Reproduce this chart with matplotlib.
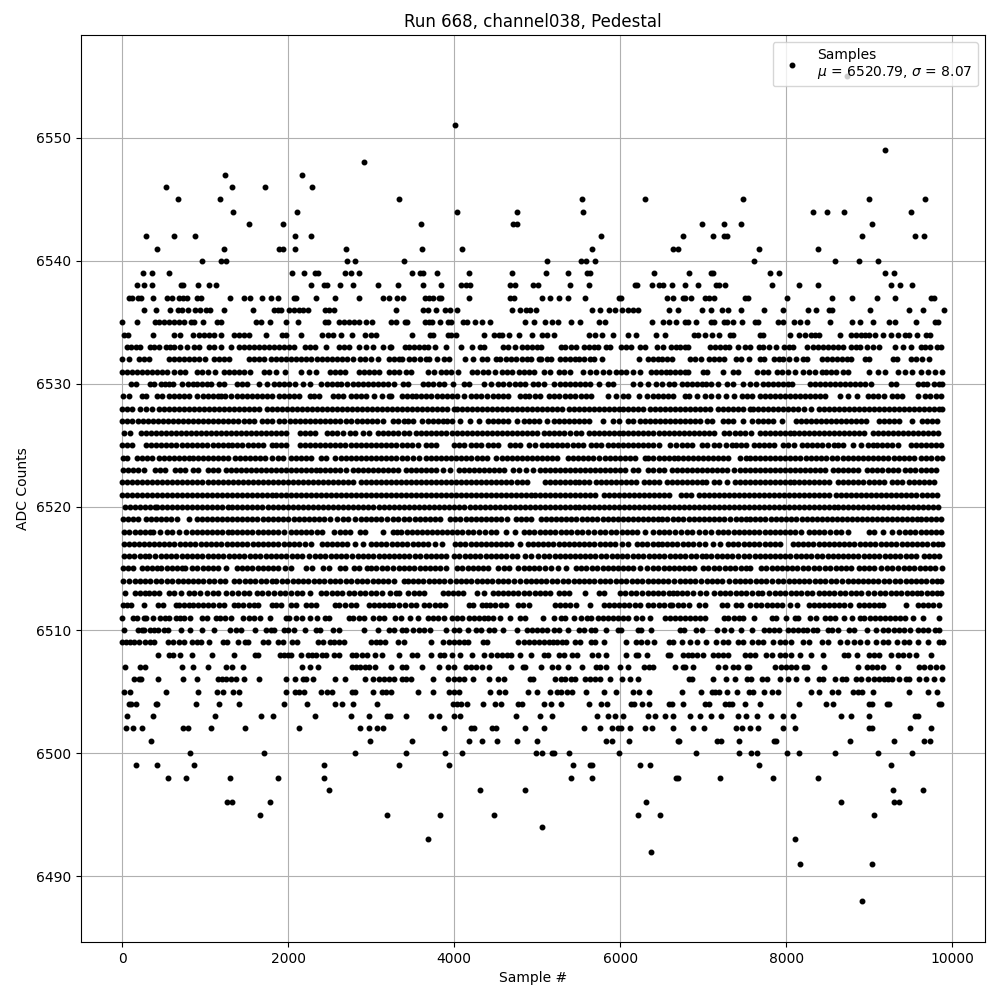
import matplotlib
matplotlib.use("Agg")
import matplotlib.pyplot as plt

# sample numbers per ADC level.
# in the dense rows the dots merge, so positions inside a solid stretch are estimates
adc_6488 = [8916]
adc_6491 = [8169, 9036]
adc_6492 = [6370]
adc_6493 = [3689, 8108]
adc_6494 = [5053]
adc_6495 = [1663, 3193, 3832, 4479, 6214, 6478, 9060]
adc_6496 = [1265, 1325, 1783, 6310, 8663, 9301, 9361]
adc_6497 = [2494, 4311, 4850, 9289, 9651]
adc_6498 = [554, 771, 1301, 1880, 2434, 5413, 5664, 6675, 6699, 7205, 7843, 8386]
adc_6499 = [169, 422, 867, 2434, 3333, 3940, 5436, 5640, 5664, 6238, 6358, 7675, 9265]
adc_6500 = [819, 1711, 2807, 3425, 3892, 4096, 4982, 5053, 5173, 5197, 5389, 5987, 6916, 7434, 7578, 7651, 8012, 8157, 8590, 9108, 9518]
adc_6501 = [349, 2988, 3497, 4180, 4335, 4515, 4754, 4994, 5832, 5904, 6107, 6693, 6711, 7169, 7217, 7434, 7855, 7880, 8771, 9301, 9663, 9735]
adc_6502 = [48, 133, 241, 735, 795, 1072, 1482, 2132, 2867, 2976, 3072, 3145, 3880, 4203, 4239, 4455, 4503, 4850, 5077, 5568, 5760, 5904, 5975, 6011, 6119, 6298, 6382, 6633, 6880, 7012, 7398, 7470, 7566, 7663, 7964, 8108, 9000, 9036, 9494, 9747]
adc_6503 = [60, 373, 1120, 1675, 1819, 2325, 2759, 2976, 3193, 3229, 3425, 3725, 3820, 4000, 4072, 4742, 5029, 5173, 5724, 5855, 5939, 6035, 6334, 6418, 6538, 6639, 6843, 6964, 7096, 7217, 7422, 7518, 7651, 7819, 7964, 8084, 8663, 8783, 9000, 9554, 9590]
adc_6504 = [84, 108, 169, 410, 422, 892, 1169, 1410, 1952, 2229, 2566, 2651, 2783, 3072, 3988, 4036, 4084, 4156, 4347, 4491, 4563, 4766, 4814, 5077, 5161, 5293, 5628, 5772, 5843, 6131, 6167, 6262, 6346, 6585, 6621, 6759, 7024, 7072, 7265, 7313, 7349, 7506, 7687, 8157, 8482, 8566, 9000, 9036, 9217, 9241, 9843, 9867]
adc_6505 = [24, 96, 530, 916, 1145, 1217, 1337, 1410, 1976, 2084, 2132, 2193, 2398, 2470, 2530, 2771, 2807, 3024, 3133, 3181, 3242, 3569, 3749, 3940, 4000, 4060, 4431, 4539, 4610, 4886, 4994, 5149, 5245, 5293, 5365, 5425, 5592, 5808, 5951, 6155, 6226, 6346, 6747, 6976, 7108, 7145, 7193, 7289, 7410, 7554, 7602, 7735, 7831, 7904, 8301, 8398, 8554, 8627, 8807, 8867, 8916, 9048, 9482, 9711, 9819]
adc_6506 = [145, 205, 229, 434, 735, 904, 1157, 1205, 1253, 1313, 1373, 1470, 1651, 1976, 2084, 2181, 2217, 2301, 2566, 2687, 2928, 3024, 3096, 3157, 3217, 3270, 3377, 3425, 3485, 3749, 3928, 4000, 4060, 4120, 4227, 4419, 4527, 4599, 4910, 4946, 5221, 5293, 5341, 5413, 5461, 5580, 5640, 5700, 5760, 5880, 6023, 6119, 6215, 6831, 6867, 7120, 7277, 7386, 7530, 7578, 7711, 7771, 7928, 8024, 8120, 8253, 8398, 8446, 8590, 8675, 8723, 8843, 8904, 8988, 9060, 9120, 9181, 9229, 9277, 9361, 9446, 9482, 9602, 9687, 9783, 9880]
adc_6507 = [36, 217, 277, 723, 855, 1036, 1253, 1325, 1458, 2169, 2265, 2361, 2771, 2819, 2867, 2928, 2976, 3048, 3241, 3366, 3425, 3617, 3820, 3928, 4000, 4144, 4203, 4263, 4335, 4419, 4682, 4826, 4850, 5041, 5173, 5257, 5377, 5544, 5712, 5760, 5831, 5999, 6095, 6286, 6346, 6394, 6663, 6759, 6783, 6880, 7181, 7265, 7361, 7422, 7530, 7554, 7867, 7940, 8000, 8060, 8120, 8217, 8253, 8458, 8867, 8976, 9036, 9096, 9169, 9349, 9602, 9663, 9735, 9807, 9880]
adc_6508 = [434, 566, 614, 699, 843, 1084, 1349, 1602, 1638, 1904, 1952, 2000, 2036, 2157, 2241, 2289, 2337, 2410, 2458, 2554, 2614, 2771, 2819, 2892, 2952, 3048, 3133, 3333, 3497, 3557, 3725, 3832, 3880, 3976, 4072, 4215, 4359, 4443, 4515, 4575, 4635, 4682, 4790, 4922, 5077, 5125, 5269, 5329, 5425, 5484, 5664, 5736, 5831, 6071, 6190, 6214, 6322, 6574, 6598, 6759, 6819, 6867, 6928, 7000, 7120, 7181, 7241, 7301, 7506, 7566, 7627, 7759, 7831, 7928, 7988, 8060, 8169, 8301, 8446, 8699, 8747, 8855, 9000, 9060, 9120, 9265, 9349, 9410, 9482, 9566, 9747]
adc_6509 = [0, 48, 96, 145, 205, 277, 337, 386, 554, 614, 687, 747, 843, 904, 952, 1048, 1217, 1265, 1398, 1482, 1518, 1699, 1759, 1880, 1940, 2048, 2108, 2361, 2422, 2506, 2554, 2614, 2675, 3000, 3060, 3108, 3169, 3318, 3401, 3725, 3868, 3940, 4000, 4060, 4120, 4168, 4347, 4395, 4766, 4838, 4898, 4958, 5017, 5077, 5137, 5185, 5245, 5305, 5353, 5460, 5520, 5652, 5700, 5808, 6071, 6190, 6250, 6322, 6406, 6585, 6639, 6747, 6843, 6928, 7036, 7157, 7241, 7301, 7422, 7482, 7590, 7663, 7723, 7843, 7928, 7988, 8060, 8205, 8277, 8434, 8506, 8651, 8735, 8819, 8892, 8976, 9084, 9169, 9229, 9337, 9422, 9482, 9590, 9711, 9843, 9892]
adc_6510 = [24, 193, 241, 265, 337, 386, 434, 506, 554, 711, 819, 964, 1108, 1301, 1373, 1434, 1602, 1735, 1795, 1831, 1952, 2000, 2072, 2205, 2337, 2386, 2542, 2614, 2916, 3084, 3217, 3277, 3366, 3425, 3509, 3581, 3641, 3713, 3904, 4000, 4060, 4168, 4263, 4323, 4419, 4479, 4587, 4754, 4874, 4934, 4994, 5053, 5113, 5197, 5269, 5377, 5508, 5568, 5652, 5700, 5831, 5975, 6011, 6215, 6250, 6370, 6723, 6771, 6916, 6988, 7169, 7253, 7337, 7458, 7590, 7735, 7795, 7855, 7916, 8024, 8084, 8145, 8205, 8253, 8325, 8373, 8506, 8554, 8627, 8759, 8819, 8976, 9084, 9169, 9229, 9301, 9361, 9422, 9494, 9590, 9651, 9711, 9795, 9843]
adc_6511 = [0, 133, 181, 265, 289, 373, 458, 518, 566, 651, 699, 747, 819, 964, 1024, 1132, 1181, 1241, 1313, 1458, 1530, 1590, 1663, 1783, 1976, 2012, 2096, 2169, 2265, 2349, 2446, 2494, 2735, 2783, 2855, 2916, 3024, 3096, 3157, 3282, 3354, 3473, 3569, 3689, 3749, 3809, 3880, 3976, 4036, 4096, 4180, 4239, 4299, 4359, 4407, 4467, 4551, 4670, 4790, 4850, 5065, 5197, 5293, 5341, 5448, 5532, 5604, 5652, 5736, 5795, 5855, 5915, 5975, 6035, 6095, 6190, 6262, 6358, 6538, 6597, 6659, 6719, 6779, 6839, 6899, 6960, 7020, 7253, 7301, 7373, 7434, 7482, 7614, 7831, 7880, 8000, 8108, 8145, 8289, 8361, 8470, 8530, 8590, 8699, 8795, 8892, 8940, 9012, 9072, 9133, 9193, 9253, 9313, 9373, 9434, 9530, 9651, 9843]
adc_6512 = [12, 60, 110, 265, 430, 490, 650, 690, 750, 800, 860, 915, 980, 1040, 1100, 1170, 1230, 1345, 1400, 1460, 1530, 1590, 1640, 1800, 1860, 1915, 2040, 2090, 2210, 2270, 2330, 2570, 2610, 2680, 2760, 2820, 2970, 3030, 3090, 3150, 3210, 3265, 3340, 3410, 3480, 3540, 3640, 3700, 3770, 3830, 3890, 4180, 4230, 4330, 4380, 4430, 4490, 4560, 4620, 4770, 4830, 4900, 5220, 5280, 5340, 5400, 5470, 5640, 5800, 5860, 5920, 5990, 6050, 6110, 6180, 6240, 6330, 6400, 6470, 6530, 6600, 6620, 6700, 6760, 6830, 6950, 7020, 7230, 7290, 7400, 7460, 7570, 7640, 7700, 7770, 7830, 7890, 7950, 8040, 8130, 8270, 8330, 8390, 8450, 8510, 8580, 8640, 8700, 8770, 8880, 8940, 9000, 9060, 9120, 9170, 9440, 9590, 9650, 9710, 9770, 9840]
adc_6513 = [40, 150, 210, 270, 330, 390, 450, 570, 630, 710, 800, 870, 940, 1020, 1090, 1160, 1250, 1320, 1400, 1470, 1530, 1620, 1680, 1760, 1830, 1900, 1960, 2040, 2110, 2170, 2260, 2400, 2460, 2530, 2590, 2650, 2730, 2790, 2860, 2930, 3000, 3060, 3125, 3230, 3300, 3340, 3440, 3520, 3580, 3640, 3860, 3930, 3990, 4050, 4110, 4270, 4360, 4470, 4530, 4590, 4650, 4710, 4770, 4840, 4900, 4970, 5030, 5090, 5150, 5260, 5320, 5380, 5580, 5740, 5810, 6000, 6060, 6130, 6190, 6260, 6340, 6400, 6460, 6520, 6590, 6640, 6690, 6750, 6810, 6880, 6960, 7030, 7130, 7200, 7260, 7320, 7400, 7460, 7520, 7590, 7660, 7710, 7790, 7860, 7920, 7990, 8060, 8120, 8180, 8250, 8310, 8390, 8450, 8510, 8570, 8650, 8710, 8780, 8840, 8900, 8980, 9060, 9130, 9190, 9260, 9320, 9380, 9450, 9510, 9570, 9630, 9700, 9760, 9820, 9870]
adc_6514 = [12, 80, 150, 210, 280, 340, 410, 470, 540, 600, 670, 730, 790, 850, 920, 980, 1050, 1110, 1180, 1240, 1350, 1410, 1480, 1540, 1600, 1670, 1730, 1800, 1860, 1930, 1990, 2060, 2120, 2180, 2240, 2310, 2370, 2430, 2500, 2560, 2630, 2700, 2760, 2830, 2890, 2950, 3020, 3080, 3140, 3200, 3270, 3390, 3450, 3510, 3570, 3630, 3700, 3760, 3820, 3880, 3950, 4020, 4080, 4140, 4200, 4270, 4330, 4400, 4460, 4530, 4590, 4650, 4720, 4790, 4860, 4920, 4990, 5050, 5110, 5180, 5240, 5310, 5370, 5440, 5500, 5560, 5630, 5690, 5760, 5820, 5880, 5950, 6010, 6070, 6140, 6200, 6260, 6330, 6390, 6450, 6520, 6580, 6650, 6720, 6780, 6840, 6900, 6970, 7050, 7110, 7170, 7230, 7310, 7380, 7440, 7500, 7570, 7640, 7700, 7760, 7830, 7900, 7960, 8030, 8090, 8160, 8220, 8280, 8350, 8410, 8470, 8540, 8600, 8670, 8740, 8800, 8860, 8920, 8990, 9050, 9110, 9180, 9240, 9310, 9370, 9440, 9500, 9560, 9630, 9690, 9760, 9820, 9870]
adc_6515 = [10, 70, 130, 240, 300, 360, 420, 470, 540, 600, 660, 720, 760, 840, 900, 970, 1030, 1090, 1150, 1250, 1390, 1450, 1510, 1570, 1640, 1700, 1760, 1820, 1880, 1960, 2040, 2210, 2290, 2420, 2490, 2630, 2690, 2790, 2850, 2950, 3000, 3060, 3130, 3190, 3260, 3330, 3400, 3460, 3520, 3590, 3650, 3710, 3770, 3830, 3900, 4040, 4100, 4170, 4230, 4290, 4350, 4410, 4530, 4600, 4660, 4770, 4840, 4900, 4960, 5020, 5090, 5170, 5250, 5350, 5470, 5530, 5590, 5660, 5720, 5790, 5850, 5910, 5970, 6040, 6100, 6160, 6240, 6320, 6390, 6460, 6530, 6590, 6650, 6710, 6770, 6830, 6890, 7000, 7060, 7130, 7190, 7260, 7320, 7380, 7450, 7510, 7570, 7700, 7760, 7830, 7890, 7950, 8010, 8070, 8130, 8200, 8260, 8330, 8400, 8470, 8530, 8600, 8660, 8720, 8780, 8880, 8940, 9000, 9060, 9140, 9220, 9280, 9350, 9420, 9480, 9540, 9610, 9670, 9730, 9790, 9880]
adc_6516 = [20, 80, 140, 210, 270, 330, 400, 470, 530, 590, 650, 720, 780, 840, 900, 960, 1030, 1090, 1150, 1220, 1290, 1350, 1410, 1470, 1540, 1600, 1660, 1730, 1790, 1860, 1920, 1980, 2050, 2110, 2170, 2250, 2320, 2380, 2440, 2520, 2580, 2640, 2700, 2770, 2840, 2900, 2960, 3020, 3090, 3150, 3210, 3270, 3340, 3400, 3460, 3530, 3590, 3660, 3720, 3780, 3840, 3900, 4000, 4060, 4130, 4190, 4250, 4310, 4380, 4440, 4500, 4570, 4630, 4700, 4760, 4850, 4930, 5010, 5080, 5140, 5210, 5270, 5330, 5400, 5460, 5520, 5580, 5640, 5700, 5770, 5830, 5900, 5960, 6020, 6080, 6150, 6220, 6280, 6350, 6410, 6470, 6530, 6600, 6660, 6720, 6780, 6850, 6910, 6980, 7040, 7100, 7170, 7230, 7290, 7350, 7420, 7490, 7550, 7620, 7680, 7740, 7800, 7870, 7930, 7990, 8050, 8120, 8180, 8240, 8300, 8370, 8430, 8500, 8560, 8620, 8680, 8750, 8810, 8870, 8940, 9000, 9060, 9120, 9190, 9250, 9310, 9370, 9440, 9500, 9560, 9660, 9720, 9780, 9840]
adc_6517 = [20, 80, 140, 200, 260, 320, 380, 440, 510, 570, 630, 700, 760, 820, 880, 950, 1010, 1070, 1130, 1190, 1260, 1320, 1390, 1450, 1510, 1580, 1640, 1700, 1760, 1820, 1880, 1950, 2010, 2070, 2130, 2200, 2270, 2410, 2470, 2530, 2590, 2650, 2710, 2800, 2900, 3000, 3060, 3120, 3180, 3250, 3310, 3370, 3430, 3500, 3560, 3620, 3680, 3770, 3850, 4010, 4070, 4130, 4200, 4260, 4320, 4380, 4440, 4510, 4570, 4630, 4690, 4790, 4890, 4950, 5010, 5070, 5130, 5190, 5260, 5320, 5380, 5440, 5510, 5570, 5630, 5690, 5760, 5820, 5880, 5940, 6020, 6100, 6200, 6260, 6320, 6390, 6450, 6510, 6570, 6630, 6690, 6760, 6820, 6880, 6950, 7020, 7120, 7200, 7300, 7360, 7420, 7490, 7550, 7610, 7670, 7740, 7800, 7860, 7920, 8080, 8140, 8200, 8260, 8320, 8390, 8450, 8510, 8570, 8640, 8700, 8760, 8820, 8890, 8950, 9010, 9070, 9140, 9200, 9260, 9320, 9390, 9450, 9510, 9570, 9640, 9700, 9770, 9830, 9880]
adc_6518 = [20, 80, 150, 210, 270, 340, 370, 460, 540, 600, 680, 770, 840, 900, 960, 1020, 1080, 1140, 1200, 1270, 1330, 1390, 1450, 1510, 1570, 1640, 1700, 1760, 1820, 1880, 1950, 2030, 2100, 2160, 2220, 2280, 2350, 2410, 2550, 2620, 2680, 2740, 2860, 2930, 3140, 3260, 3310, 3360, 3430, 3490, 3550, 3610, 3670, 3730, 3790, 3850, 3910, 3970, 4040, 4100, 4170, 4230, 4300, 4370, 4440, 4510, 4620, 4730, 4840, 4900, 4960, 5030, 5090, 5150, 5220, 5290, 5350, 5410, 5480, 5540, 5610, 5690, 5760, 5820, 5890, 5950, 6020, 6080, 6140, 6200, 6300, 6400, 6470, 6530, 6590, 6660, 6730, 6800, 6860, 6950, 7020, 7100, 7180, 7240, 7300, 7370, 7430, 7490, 7550, 7610, 7670, 7740, 7800, 7860, 7930, 7990, 8050, 8110, 8180, 8270, 8330, 8390, 8450, 8530, 8600, 8660, 8750, 9000, 9060, 9170, 9270, 9360, 9430, 9490, 9550, 9620, 9690, 9750, 9810, 9870]
adc_6519 = [10, 70, 130, 190, 290, 350, 410, 470, 530, 590, 660, 800, 900, 960, 1020, 1080, 1140, 1200, 1260, 1320, 1390, 1450, 1510, 1570, 1630, 1700, 1760, 1820, 1880, 1940, 2000, 2070, 2130, 2190, 2250, 2310, 2370, 2430, 2510, 2590, 2660, 2720, 2800, 2880, 2940, 3000, 3060, 3120, 3190, 3260, 3320, 3400, 3460, 3530, 3590, 3650, 3710, 3770, 3830, 3950, 4010, 4070, 4140, 4200, 4260, 4320, 4380, 4450, 4510, 4570, 4640, 4750, 4810, 4870, 4930, 5050, 5110, 5170, 5230, 5290, 5350, 5410, 5470, 5540, 5600, 5660, 5720, 5790, 5850, 5910, 5970, 6030, 6090, 6150, 6210, 6270, 6330, 6390, 6450, 6510, 6570, 6640, 6700, 6760, 6830, 6890, 6950, 7010, 7070, 7130, 7190, 7250, 7320, 7390, 7450, 7510, 7570, 7630, 7690, 7750, 7820, 7880, 7940, 8000, 8060, 8120, 8190, 8250, 8310, 8370, 8430, 8490, 8550, 8610, 8670, 8730, 8790, 8850, 8910, 8970, 9030, 9090, 9150, 9210, 9270, 9330, 9390, 9450, 9510, 9570, 9630, 9690, 9750, 9810, 9870]
adc_6520 = [40, 100, 160, 220, 280, 340, 400, 420, 480, 540, 600, 660, 720, 780, 840, 900, 960, 1020, 1080, 1140, 1200, 1270, 1330, 1390, 1450, 1510, 1570, 1630, 1690, 1760, 1820, 1880, 1940, 2000, 2060, 2120, 2180, 2240, 2300, 2360, 2420, 2480, 2540, 2600, 2660, 2720, 2780, 2840, 2900, 2960, 3020, 3090, 3150, 3210, 3270, 3330, 3400, 3460, 3520, 3580, 3640, 3700, 3760, 3820, 3880, 3940, 4000, 4060, 4120, 4190, 4250, 4310, 4370, 4430, 4490, 4550, 4610, 4670, 4730, 4790, 4850, 4910, 4970, 5030, 5090, 5150, 5210, 5270, 5330, 5390, 5450, 5510, 5570, 5630, 5690, 5750, 5810, 5870, 5930, 5990, 6050, 6110, 6170, 6230, 6290, 6350, 6410, 6470, 6530, 6590, 6650, 6710, 6770, 6830, 6890, 6950, 7010, 7070, 7130, 7190, 7250, 7310, 7370, 7430, 7490, 7550, 7610, 7670, 7730, 7790, 7850, 7910, 7970, 8030, 8090, 8150, 8210, 8270, 8330, 8390, 8450, 8510, 8570, 8630, 8690, 8750, 8810, 8870, 8930, 8990, 9050, 9110, 9170, 9230, 9290, 9350, 9410, 9470, 9530, 9590, 9650, 9710, 9770, 9830]
adc_6521 = [0, 60, 120, 180, 240, 300, 360, 420, 480, 540, 600, 660, 720, 780, 840, 900, 960, 1020, 1080, 1140, 1200, 1260, 1320, 1380, 1440, 1500, 1560, 1620, 1680, 1740, 1800, 1860, 1920, 1980, 2040, 2100, 2160, 2220, 2280, 2340, 2400, 2460, 2520, 2580, 2640, 2700, 2760, 2820, 2880, 2940, 3000, 3060, 3120, 3180, 3240, 3300, 3360, 3420, 3480, 3540, 3600, 3660, 3720, 3780, 3840, 3900, 3960, 4020, 4080, 4140, 4200, 4260, 4320, 4380, 4440, 4500, 4560, 4620, 4680, 4740, 4800, 4860, 4920, 4980, 5040, 5100, 5160, 5220, 5280, 5340, 5400, 5460, 5520, 5580, 5640, 5700, 5800, 5870, 5930, 5990, 6050, 6110, 6170, 6230, 6290, 6350, 6410, 6470, 6530, 6590, 6730, 6790, 6850, 6950, 7010, 7070, 7130, 7190, 7250, 7310, 7370, 7430, 7490, 7550, 7610, 7670, 7730, 7790, 7850, 7910, 7970, 8030, 8090, 8150, 8210, 8270, 8330, 8390, 8450, 8510, 8600, 8660, 8720, 8780, 8840, 8900, 8960, 9020, 9080, 9140, 9200, 9260, 9320, 9380, 9440, 9500, 9560, 9640, 9700, 9760, 9820]
adc_6522 = [0, 60, 120, 180, 240, 300, 360, 420, 480, 540, 600, 660, 720, 780, 840, 900, 960, 1040, 1100, 1160, 1220, 1280, 1340, 1400, 1460, 1520, 1580, 1640, 1700, 1760, 1820, 1880, 1940, 2000, 2060, 2120, 2180, 2240, 2300, 2360, 2420, 2480, 2540, 2600, 2660, 2720, 2780, 2880, 2940, 3000, 3060, 3120, 3180, 3240, 3300, 3360, 3420, 3480, 3540, 3600, 3660, 3720, 3780, 3840, 3900, 3960, 4020, 4080, 4140, 4200, 4260, 4320, 4380, 4440, 4500, 4560, 4620, 4680, 4760, 4820, 4880, 5090, 5150, 5210, 5270, 5330, 5390, 5450, 5510, 5570, 5630, 5710, 5770, 5830, 5890, 5950, 6010, 6070, 6130, 6190, 6290, 6350, 6410, 6470, 6560, 6620, 6680, 6740, 6800, 6860, 6920, 6980, 7040, 7130, 7190, 7290, 7380, 7440, 7500, 7560, 7620, 7680, 7740, 7800, 7860, 7920, 7980, 8040, 8100, 8160, 8220, 8280, 8340, 8400, 8460, 8520, 8620, 8680, 8740, 8800, 8860, 8920, 9000, 9060, 9120, 9180, 9270, 9330, 9390, 9480, 9540, 9600, 9660, 9720, 9780]
adc_6523 = [12, 70, 130, 190, 260, 400, 460, 520, 640, 700, 760, 860, 920, 1040, 1100, 1160, 1250, 1310, 1370, 1430, 1490, 1550, 1610, 1670, 1730, 1790, 1850, 1910, 1970, 2030, 2090, 2150, 2210, 2270, 2330, 2390, 2450, 2510, 2570, 2630, 2700, 2780, 2840, 2900, 2960, 3020, 3080, 3140, 3200, 3260, 3320, 3420, 3480, 3540, 3600, 3660, 3720, 3780, 3870, 3950, 4060, 4120, 4180, 4240, 4300, 4360, 4420, 4480, 4540, 4600, 4710, 4780, 4860, 4950, 5040, 5100, 5160, 5220, 5280, 5340, 5400, 5460, 5520, 5580, 5640, 5700, 5760, 5820, 5880, 5940, 6000, 6060, 6160, 6220, 6340, 6400, 6470, 6530, 6630, 6690, 6750, 6810, 6870, 6930, 6990, 7050, 7110, 7170, 7230, 7290, 7370, 7440, 7500, 7560, 7630, 7690, 7750, 7810, 7870, 7930, 7990, 8050, 8110, 8170, 8230, 8290, 8350, 8410, 8470, 8560, 8620, 8680, 8740, 8800, 8860, 8970, 9030, 9090, 9150, 9230, 9290, 9350, 9430, 9490, 9550, 9620, 9680, 9740, 9800]
adc_6524 = [12, 60, 180, 240, 300, 360, 440, 500, 560, 620, 680, 740, 800, 860, 920, 980, 1040, 1100, 1160, 1220, 1280, 1360, 1420, 1480, 1540, 1600, 1660, 1720, 1800, 1880, 1940, 2040, 2100, 2160, 2220, 2280, 2400, 2460, 2560, 2640, 2700, 2760, 2820, 2880, 2940, 3000, 3060, 3120, 3180, 3240, 3300, 3370, 3430, 3500, 3580, 3660, 3720, 3780, 3840, 3900, 3960, 4020, 4080, 4140, 4200, 4280, 4340, 4400, 4500, 4580, 4640, 4700, 4760, 4820, 4880, 4940, 5000, 5060, 5120, 5180, 5240, 5370, 5430, 5490, 5550, 5610, 5670, 5750, 5820, 5880, 5940, 6000, 6060, 6120, 6180, 6300, 6340, 6400, 6470, 6530, 6590, 6650, 6700, 6760, 6820, 6880, 6940, 7000, 7060, 7120, 7180, 7240, 7300, 7440, 7510, 7570, 7630, 7690, 7750, 7810, 7870, 7930, 7990, 8050, 8110, 8170, 8240, 8300, 8360, 8420, 8480, 8550, 8610, 8680, 8740, 8800, 8860, 8930, 8990, 9050, 9110, 9170, 9230, 9300, 9360, 9420, 9480, 9540, 9620, 9680, 9740, 9820, 9880]
adc_6525 = [0, 60, 120, 290, 350, 410, 470, 530, 590, 650, 720, 780, 840, 900, 960, 1020, 1090, 1150, 1210, 1270, 1330, 1390, 1450, 1520, 1580, 1640, 1700, 1800, 1860, 1920, 1980, 2140, 2200, 2260, 2320, 2380, 2440, 2500, 2560, 2620, 2680, 2760, 2820, 2880, 2940, 3000, 3060, 3120, 3180, 3240, 3300, 3370, 3430, 3490, 3560, 3660, 3720, 3780, 4000, 4060, 4120, 4200, 4260, 4320, 4410, 4470, 4530, 4670, 4730, 4790, 4900, 4980, 5060, 5120, 5180, 5240, 5300, 5360, 5430, 5490, 5550, 5650, 5710, 5770, 5850, 5910, 5970, 6030, 6100, 6160, 6220, 6280, 6340, 6400, 6470, 6600, 6670, 6740, 6800, 6860, 6980, 7050, 7130, 7190, 7280, 7350, 7390, 7450, 7520, 7610, 7670, 7730, 7790, 7850, 7960, 8020, 8100, 8190, 8250, 8310, 8370, 8430, 8500, 8570, 8630, 8690, 8800, 8900, 8980, 9040, 9100, 9160, 9220, 9280, 9350, 9500, 9560, 9620, 9680, 9740, 9800, 9860]
adc_6526 = [24, 90, 230, 290, 350, 410, 470, 530, 590, 650, 710, 770, 830, 890, 950, 1010, 1070, 1130, 1190, 1250, 1310, 1370, 1430, 1490, 1550, 1610, 1670, 1730, 1790, 1860, 1920, 1980, 2140, 2200, 2260, 2320, 2470, 2530, 2590, 2660, 2750, 2810, 2900, 2980, 3080, 3140, 3200, 3260, 3320, 3400, 3460, 3540, 3600, 3660, 3720, 3780, 3840, 3900, 3980, 4040, 4100, 4160, 4220, 4280, 4340, 4400, 4460, 4520, 4580, 4640, 4700, 4760, 4820, 4880, 4940, 5000, 5080, 5140, 5200, 5260, 5320, 5400, 5470, 5530, 5620, 5680, 5740, 5800, 5860, 5920, 5980, 6040, 6100, 6160, 6220, 6280, 6340, 6400, 6470, 6530, 6590, 6650, 6710, 6770, 6830, 6890, 6950, 7010, 7070, 7130, 7250, 7310, 7380, 7440, 7500, 7580, 7680, 7740, 7800, 7860, 7920, 7980, 8040, 8100, 8160, 8220, 8280, 8340, 8400, 8460, 8520, 8580, 8640, 8700, 8760, 8820, 8880, 8940, 9050, 9110, 9170, 9230, 9290, 9350, 9410, 9470, 9530, 9590, 9650, 9710, 9770, 9830]
adc_6527 = [0, 60, 120, 190, 250, 310, 370, 430, 490, 550, 610, 670, 730, 790, 850, 910, 980, 1040, 1100, 1160, 1220, 1280, 1340, 1400, 1470, 1530, 1590, 1680, 1740, 1800, 1890, 1950, 2020, 2080, 2140, 2200, 2260, 2320, 2380, 2440, 2500, 2560, 2620, 2700, 2760, 2830, 2890, 2950, 3010, 3070, 3140, 3260, 3320, 3390, 3450, 3510, 3610, 3680, 3740, 3800, 3860, 3920, 3980, 4070, 4190, 4300, 4410, 4470, 4530, 4590, 4650, 4760, 4840, 4900, 4960, 5020, 5120, 5200, 5260, 5320, 5380, 5440, 5500, 5560, 5620, 5790, 5910, 5980, 6090, 6150, 6240, 6300, 6360, 6420, 6480, 6540, 6600, 6660, 6720, 6780, 6840, 6900, 6960, 7050, 7110, 7240, 7300, 7360, 7480, 7590, 7660, 7720, 7780, 7840, 7950, 8120, 8180, 8240, 8300, 8360, 8420, 8480, 8540, 8600, 8660, 8720, 8780, 8840, 8900, 8960, 9120, 9180, 9240, 9300, 9360, 9520, 9640, 9700, 9760, 9820]
adc_6528 = [0, 60, 120, 220, 290, 360, 450, 510, 570, 630, 690, 750, 810, 870, 930, 990, 1050, 1110, 1170, 1230, 1290, 1350, 1410, 1470, 1530, 1590, 1650, 1750, 1810, 1870, 1930, 1990, 2050, 2110, 2170, 2230, 2290, 2350, 2410, 2470, 2530, 2590, 2650, 2710, 2770, 2830, 2890, 2950, 3010, 3070, 3130, 3190, 3250, 3310, 3370, 3430, 3490, 3550, 3610, 3670, 3730, 3790, 3850, 3920, 4000, 4040, 4100, 4160, 4220, 4280, 4340, 4400, 4460, 4520, 4580, 4640, 4700, 4760, 4820, 4880, 4940, 5000, 5060, 5120, 5180, 5240, 5300, 5380, 5440, 5500, 5560, 5620, 5680, 5740, 5800, 5860, 5920, 5980, 6040, 6100, 6160, 6220, 6280, 6360, 6420, 6480, 6540, 6600, 6660, 6720, 6780, 6840, 6900, 6960, 7020, 7080, 7180, 7240, 7300, 7360, 7420, 7480, 7560, 7600, 7660, 7720, 7780, 7840, 7900, 7960, 8020, 8080, 8140, 8220, 8300, 8390, 8450, 8520, 8580, 8640, 8700, 8760, 8820, 8880, 8940, 9000, 9060, 9120, 9180, 9240, 9300, 9360, 9420, 9480, 9540, 9600, 9660, 9720, 9780, 9840, 9880]
adc_6529 = [12, 84, 245, 290, 426, 486, 566, 626, 690, 750, 810, 908, 970, 1030, 1090, 1150, 1190, 1240, 1313, 1390, 1450, 1510, 1570, 1630, 1690, 1750, 1810, 1890, 1950, 2010, 2070, 2130, 2265, 2313, 2373, 2535, 2595, 2660, 2755, 2815, 2875, 2935, 3037, 3137, 3217, 3242, 3370, 3430, 3490, 3545, 3600, 3660, 3720, 3790, 3850, 3920, 3970, 4030, 4120, 4200, 4260, 4320, 4400, 4470, 4530, 4590, 4650, 4790, 4850, 4900, 4980, 5040, 5140, 5200, 5260, 5340, 5400, 5460, 5530, 5590, 5650, 5850, 5950, 6030, 6100, 6230, 6320, 6400, 6460, 6520, 6580, 6640, 6780, 6830, 6930, 7020, 7090, 7180, 7280, 7370, 7470, 7530, 7590, 7690, 7750, 7810, 7870, 7930, 7990, 8050, 8110, 8170, 8230, 8290, 8350, 8410, 8470, 8650, 8750, 8850, 8990, 9050, 9110, 9180, 9270, 9330, 9400, 9590, 9670, 9730, 9810, 9870]
adc_6530 = [104, 165, 337, 390, 470, 520, 566, 618, 723, 790, 855, 904, 960, 1020, 1070, 1170, 1230, 1390, 1450, 1510, 1650, 1750, 1830, 1890, 1950, 2010, 2080, 2180, 2265, 2400, 2470, 2530, 2590, 2640, 2715, 2780, 2840, 2900, 2960, 3020, 3080, 3140, 3200, 3270, 3378, 3440, 3620, 3680, 3750, 3820, 3880, 3990, 4120, 4180, 4360, 4440, 4530, 4590, 4660, 4730, 4790, 4850, 4950, 5010, 5080, 5200, 5280, 5340, 5400, 5460, 5520, 5580, 5640, 5750, 5850, 5910, 6150, 6240, 6330, 6430, 6510, 6590, 6645, 6740, 6800, 6860, 6920, 6980, 7040, 7100, 7180, 7290, 7360, 7480, 7560, 7640, 7720, 7780, 7840, 7900, 7960, 8020, 8070, 8290, 8350, 8410, 8470, 8530, 8590, 8650, 8710, 8770, 8830, 8890, 8950, 9020, 9260, 9320, 9590, 9650, 9700, 9780, 9840, 9880]
adc_6531 = [0, 60, 120, 180, 240, 300, 360, 420, 480, 540, 620, 700, 760, 900, 960, 1040, 1120, 1230, 1290, 1350, 1410, 1470, 1540, 1710, 1770, 1860, 1960, 2157, 2257, 2337, 2500, 2570, 2630, 2690, 2855, 2915, 2975, 3040, 3097, 3217, 3280, 3340, 3420, 3480, 3680, 3760, 3840, 3900, 3960, 4050, 4220, 4280, 4350, 4410, 4490, 4580, 4640, 4700, 4780, 4840, 4900, 4960, 5080, 5150, 5260, 5320, 5400, 5550, 5640, 5710, 5790, 5870, 5950, 6010, 6070, 6150, 6240, 6370, 6430, 6490, 6550, 6598, 6660, 6720, 6780, 6820, 7000, 7048, 7241, 7361, 7422, 7651, 7720, 7783, 7884, 7950, 8020, 8104, 8205, 8280, 8345, 8426, 8480, 8534, 8606, 8680, 8747, 9000, 9108, 9189, 9349, 9430, 9510, 9627, 9711, 9790, 9871]
adc_6532 = [0, 84, 205, 265, 325, 566, 626, 686, 746, 806, 866, 930, 1000, 1108, 1170, 1230, 1290, 1530, 1590, 1650, 1710, 1790, 1850, 1910, 1970, 2030, 2090, 2150, 2210, 2270, 2350, 2410, 2470, 2530, 2590, 2650, 2710, 2780, 2860, 2930, 3000, 3080, 3217, 3277, 3337, 3370, 3460, 3520, 3590, 3660, 3700, 3790, 3880, 3940, 4130, 4230, 4330, 4400, 4500, 4550, 4620, 4690, 4750, 4820, 4880, 4930, 5020, 5050, 5120, 5170, 5270, 5330, 5390, 5450, 5510, 5570, 5640, 5690, 5780, 6230, 6330, 6400, 6460, 6510, 6570, 6630, 6843, 6904, 6976, 7072, 7133, 7193, 7253, 7398, 7458, 7554, 7687, 7735, 7855, 7916, 7964, 8036, 8120, 8205, 8253, 8434, 8494, 8554, 8614, 8675, 8735, 8783, 8952, 9000, 9289, 9337, 9506, 9566, 9639, 9723]
adc_6533 = [60, 108, 169, 217, 337, 386, 446, 530, 578, 626, 699, 783, 867, 928, 1048, 1108, 1193, 1313, 1409, 1470, 1530, 1590, 1650, 1710, 1770, 1830, 1890, 1950, 2010, 2070, 2205, 2265, 2325, 2458, 2614, 2675, 2735, 2855, 2940, 3024, 3145, 3229, 3242, 3414, 3461, 3521, 3581, 3641, 3689, 3773, 3904, 4084, 4215, 4311, 4359, 4587, 4646, 4730, 4814, 4874, 4934, 4994, 5041, 5293, 5341, 5413, 5473, 5568, 5628, 5688, 5736, 5832, 5879, 6011, 6071, 6131, 6238, 6298, 6442, 6514, 6609, 6669, 6720, 6780, 6820, 7084, 7145, 7205, 7265, 7313, 7422, 7506, 7566, 7675, 7723, 7795, 7880, 7976, 8036, 8084, 8253, 8325, 8386, 8446, 8506, 8566, 8627, 8687, 8783, 8843, 8892, 8976, 9048, 9120, 9313, 9410, 9506, 9627, 9675, 9735, 9819, 9867]
adc_6534 = [24, 72, 373, 626, 699, 855, 928, 988, 1048, 1108, 1193, 1349, 1409, 1470, 1530, 1735, 1928, 1976, 2157, 2410, 2482, 2542, 2638, 2771, 2928, 3000, 3056, 3497, 3713, 3749, 3928, 3964, 4024, 4359, 4479, 4539, 4575, 4658, 4778, 4934, 5053, 5113, 5197, 5628, 5700, 5784, 5915, 6095, 6190, 6430, 6538, 6892, 6940, 7024, 7108, 7193, 7325, 7361, 7687, 7723, 8048, 8157, 8229, 8301, 8349, 8398, 8651, 8783, 8843, 8904, 8952, 9000, 9072, 9169, 9265, 9349, 9434, 9482, 9578, 9687, 9735]
adc_6535 = [0, 181, 398, 446, 506, 566, 626, 687, 747, 827, 867, 976, 1145, 1193, 1614, 1675, 1779, 1976, 2120, 2446, 2482, 2614, 2675, 2735, 2795, 2855, 2940, 3012, 3241, 3301, 3414, 3437, 3653, 3701, 3737, 3832, 3928, 3964, 4108, 4156, 4251, 4335, 4431, 4850, 4958, 5089, 5173, 5257, 5413, 5520, 5748, 5820, 6382, 6514, 6585, 6669, 6783, 6819, 6916, 7096, 7133, 7253, 7289, 7361, 7470, 7627, 7663, 7904, 7964, 8096, 8169, 8253, 8530, 8795, 8892, 9048, 9241, 9313, 9566, 9795, 9831]
adc_6536 = [265, 410, 578, 675, 723, 795, 880, 940, 1012, 1060, 1229, 1578, 1831, 1880, 1920, 2012, 2072, 2132, 2181, 2241, 2446, 2494, 2554, 3301, 3629, 3689, 3784, 3892, 3952, 4036, 4694, 4790, 4862, 4910, 4982, 5664, 5760, 5867, 5939, 6023, 6095, 6155, 6215, 6585, 6693, 6988, 7096, 7229, 7301, 7458, 7735, 7964, 8265, 8361, 8518, 8554, 9012, 9482, 9651, 9900]
adc_6537 = [84, 124, 193, 229, 373, 542, 602, 687, 735, 783, 904, 952, 1301, 1470, 1542, 1687, 1791, 1880, 2072, 2096, 2337, 2566, 2855, 3145, 3217, 3317, 3378, 3653, 3701, 3749, 3820, 3844, 4180, 4670, 4718, 5053, 5149, 5269, 5377, 5580, 5987, 6011, 6562, 6633, 6759, 6783, 6855, 7024, 7072, 7133, 7506, 7542, 8012, 8554, 8795, 9096, 9313, 9747, 9783]
adc_6538 = [181, 265, 361, 711, 735, 916, 1048, 1132, 2277, 2434, 2470, 2626, 2783, 3084, 3325, 3629, 3844, 4084, 4144, 4192, 4670, 4730, 4946, 5006, 5400, 5628, 6178, 6202, 6382, 6466, 6514, 6621, 6783, 6940, 7157, 7193, 7265, 7831, 8157, 8386, 9265, 9373, 9518]
adc_6539 = [253, 361, 566, 2048, 2193, 2325, 2361, 2683, 2755, 2855, 3497, 3593, 3629, 3796, 4180, 4694, 5101, 5377, 5604, 5640, 6406, 6831, 7096, 7120, 7807, 7916, 9193, 9301]
adc_6540 = [964, 1193, 1253, 2711, 2807, 3401, 5113, 5532, 5592, 5700, 7614, 8590, 8880, 9108]
adc_6541 = [422, 1229, 1890, 1940, 2084, 2700, 3617, 4096, 5664, 6633, 6693, 7675, 8386]
adc_6542 = [289, 626, 880, 2084, 2277, 5771, 6759, 7120, 7253, 7289, 8916, 9554, 9663]
adc_6543 = [1530, 1940, 3605, 4706, 4754, 6988, 7253, 7458, 9036]
adc_6544 = [1337, 2108, 4036, 4754, 5556, 8325, 8494, 8699, 9506]
adc_6545 = [675, 1180, 3333, 5545, 6300, 7482, 9000, 9675]
adc_6546 = [530, 1325, 1723, 2289]
adc_6547 = [1240, 2168]
adc_6548 = [2916]
adc_6549 = [9193]
adc_6551 = [4012]
adc_6555 = [8727]

levels = [6488, 6491, 6492, 6493, 6494, 6495, 6496, 6497, 6498, 6499, 6500, 6501, 6502, 6503, 6504, 6505, 6506, 6507, 6508, 6509, 6510, 6511, 6512, 6513, 6514, 6515, 6516, 6517, 6518, 6519, 6520, 6521, 6522, 6523, 6524, 6525, 6526, 6527, 6528, 6529, 6530, 6531, 6532, 6533, 6534, 6535, 6536, 6537, 6538, 6539, 6540, 6541, 6542, 6543, 6544, 6545, 6546, 6547, 6548, 6549, 6551, 6555]
rows = [adc_6488, adc_6491, adc_6492, adc_6493, adc_6494, adc_6495, adc_6496, adc_6497, adc_6498, adc_6499, adc_6500, adc_6501, adc_6502, adc_6503, adc_6504, adc_6505, adc_6506, adc_6507, adc_6508, adc_6509, adc_6510, adc_6511, adc_6512, adc_6513, adc_6514, adc_6515, adc_6516, adc_6517, adc_6518, adc_6519, adc_6520, adc_6521, adc_6522, adc_6523, adc_6524, adc_6525, adc_6526, adc_6527, adc_6528, adc_6529, adc_6530, adc_6531, adc_6532, adc_6533, adc_6534, adc_6535, adc_6536, adc_6537, adc_6538, adc_6539, adc_6540, adc_6541, adc_6542, adc_6543, adc_6544, adc_6545, adc_6546, adc_6547, adc_6548, adc_6549, adc_6551, adc_6555]

samples = []
counts = []
for level, row in zip(levels, rows):
    samples.extend(row)
    counts.extend([level] * len(row))

fig, ax = plt.subplots(figsize=(10, 10), dpi=100)
ax.plot(samples, counts, "k.", markersize=6.5, label="Samples\n$\\mu$ = 6520.79, $\\sigma$ = 8.07")
ax.set_title("Run 668, channel038, Pedestal")
ax.set_xlabel("Sample #")
ax.set_ylabel("ADC Counts")
ax.grid(True)
ax.legend(loc="upper right")
fig.subplots_adjust(left=0.081, right=0.985, top=0.965, bottom=0.058)
fig.savefig("out.png")
